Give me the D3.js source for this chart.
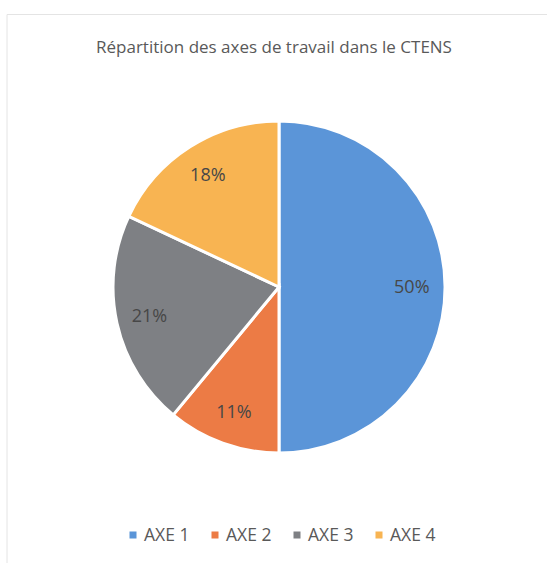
<!DOCTYPE html>
<html>
<head>
<meta charset="utf-8">
<script src="https://cdn.jsdelivr.net/npm/d3@7"></script>
<style>
  body { margin: 0; background: #fff; }
  text { font-family: "Open Sans", sans-serif; }
</style>
</head>
<body>
<div id="viz"><svg width="547" height="563"></svg></div>
<script>
const title = "Répartition des axes de travail dans le CTENS"
const categories = ["AXE 1", "AXE 2", "AXE 3", "AXE 4"]
const values = [50, 11, 21, 18]
const colors = ["#5b95d8", "#ec7b45", "#7e8084", "#f8b452"]

const svg = d3.select("#viz").select("svg")

// faint frame of the scanned chart
svg.append("path")
    .attr("d", "M7,563 L7,14.5 L547,14.5")
    .attr("fill", "none")
    .attr("stroke", "#e4e4e4")
    .attr("stroke-width", 1)

svg.append("text")
    .attr("x", 274)
    .attr("y", 53)
    .attr("text-anchor", "middle")
    .attr("font-size", 17)
    .attr("fill", "#595959")
    .text(title)

const cx = 279, cy = 287, r = 166

const pie = d3.pie().sort(null).value(d => d)
const arc = d3.arc().innerRadius(0).outerRadius(r)
const labelArc = d3.arc().innerRadius(r * 0.8).outerRadius(r * 0.8)

const pieG = svg.append("g")
    .attr("transform", "translate(" + cx + ", " + cy + ")")

const slices = pieG.selectAll("g")
    .data(pie(values))
    .enter()
    .append("g")

slices.append("path")
    .attr("d", arc)
    .attr("fill", (d, i) => colors[i])
    .attr("stroke", "#fff")
    .attr("stroke-width", 3)

slices.append("text")
    .attr("transform", d => "translate(" + labelArc.centroid(d) + ")")
    .attr("text-anchor", "middle")
    .attr("dy", "0.35em")
    .attr("font-size", 18)
    .attr("fill", "#474747")
    .text(d => d.data + "%")

// legend
const legendX = d3.scalePoint()
    .domain(categories)
    .range([133, 379])

const legendG = svg.append("g")
    .selectAll("g")
    .data(categories)
    .enter()
    .append("g")
    .attr("transform", d => "translate(" + legendX(d) + ", " + 535 + ")")

legendG.append("rect")
    .attr("x", -3.5)
    .attr("y", -3.5)
    .attr("width", 7)
    .attr("height", 7)
    .attr("fill", (d, i) => colors[i])

legendG.append("text")
    .attr("x", 11)
    .attr("dy", "0.35em")
    .attr("font-size", 17.5)
    .attr("fill", "#595959")
    .text(d => d)
</script>
</body>
</html>
